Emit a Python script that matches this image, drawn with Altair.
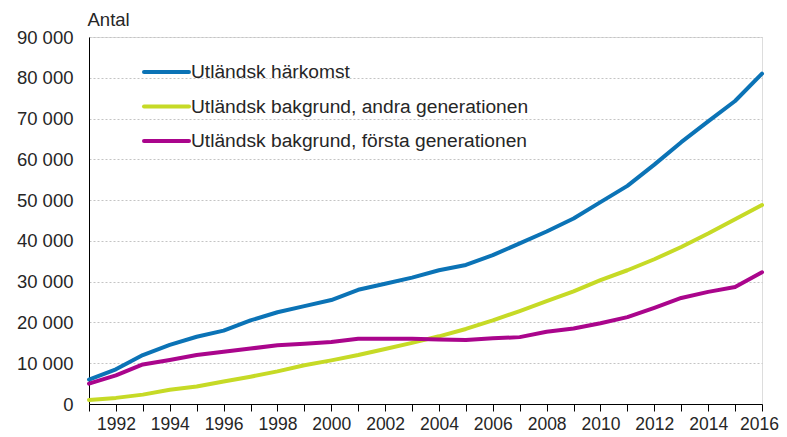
import altair as alt
import pandas as pd

years = list(range(1991, 2017))

series_names = [
    "Utländsk härkomst",
    "Utländsk bakgrund, andra generationen",
    "Utländsk bakgrund, första generationen",
]

harkomst = [6000, 8500, 12000, 14500, 16500, 18000, 20500, 22500, 24000, 25500,
            28000, 29500, 31000, 32800, 34100, 36500, 39400, 42300, 45500, 49500,
            53500, 58700, 64200, 69300, 74300, 81000]
andra = [1000, 1500, 2300, 3500, 4300, 5500, 6700, 8000, 9500, 10700,
         12000, 13500, 15000, 16600, 18400, 20500, 22800, 25200, 27600, 30400,
         32800, 35500, 38500, 41800, 45300, 48800]
forsta = [5000, 7000, 9700, 10800, 12000, 12800, 13600, 14400, 14800, 15200,
          16000, 16000, 16000, 15800, 15700, 16100, 16400, 17700, 18500, 19800,
          21300, 23600, 26000, 27500, 28700, 32300]

colors = ["#0b73b6", "#c6da26", "#aa058c"]

rows = []
for name, vals in zip(series_names, [harkomst, andra, forsta]):
    for y, v in zip(years, vals):
        rows.append({"year": y, "value": v, "serie": name})
df = pd.DataFrame(rows)
one = pd.DataFrame({"k": [0]})

W, H = 673, 367
FONT = "Liberation Sans"
TXT = "#262626"
AX_FS = 18.5
XL_FS = 17.5
LG_FS = 19.2

base = alt.Chart(df).mark_line(strokeWidth=4, strokeCap="round", strokeJoin="round").encode(
    x=alt.X("year:Q",
            scale=alt.Scale(domain=[1991, 2016], nice=False, zero=False),
            axis=alt.Axis(values=years, title=None, grid=False,
                          labelExpr="datum.value % 2 == 0 ? datum.value : ''",
                          labelOffset={"condition": {"test": "datum.value == 2016", "value": -3},
                                       "value": 0},
                          format="d", tickSize=7, tickColor="#000", domainColor="#000",
                          labelPadding=4, labelFontSize=XL_FS, labelColor=TXT, labelFont=FONT,
                          labelFlush=False)),
    y=alt.Y("value:Q",
            scale=alt.Scale(domain=[0, 90000], nice=False),
            axis=alt.Axis(values=list(range(0, 90001, 10000)),
                          labelExpr="replace(format(datum.value, ',d'), ',', ' ')",
                          ticks=False, domainColor="#000", labelPadding=16,
                          labelFontSize=AX_FS, labelColor=TXT, labelFont=FONT,
                          grid=True, gridColor="#c4c4c4", gridDash=[2, 2], gridWidth=1,
                          title="Antal", titleAngle=0, titleAlign="left",
                          titleBaseline="alphabetic", titleX=-2, titleY=-12,
                          titleFontSize=AX_FS, titleFontWeight="normal", titleColor=TXT,
                          titleFont=FONT)),
    color=alt.Color("serie:N", scale=alt.Scale(domain=series_names, range=colors), legend=None),
    order=alt.Order("year:Q"),
)

legend_layers = []
for i, (name, col) in enumerate(zip(series_names, colors)):
    yy = 35 + 34.5 * i
    legend_layers.append(
        alt.Chart(one).mark_rule(strokeWidth=4, strokeCap="round").encode(
            x=alt.value(55), x2=alt.value(100), y=alt.value(yy), color=alt.value(col)
        )
    )
    legend_layers.append(
        alt.Chart(one).mark_text(align="left", baseline="middle", fontSize=LG_FS,
                                 font=FONT, color=TXT).encode(
            x=alt.value(102), y=alt.value(yy), text=alt.value(name)
        )
    )

chart = alt.layer(base, *legend_layers).properties(
    width=W, height=H,
    autosize=alt.AutoSizeParams(type="none"),
    padding={"left": 81, "top": 29, "right": 17, "bottom": 32},
).configure_view(stroke=None).configure(background="white")

chart.save("out.html", embed_options={"renderer": "svg", "actions": False})
